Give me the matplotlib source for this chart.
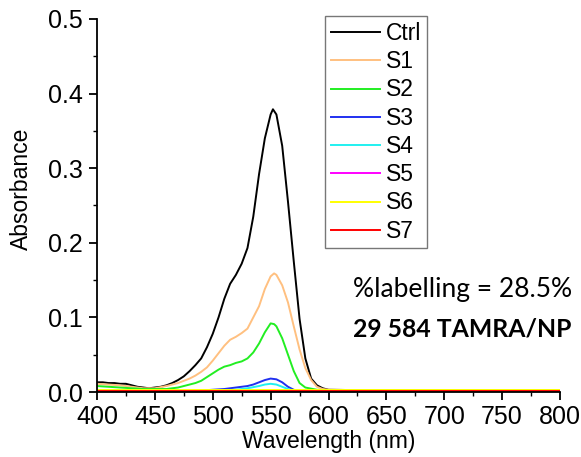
import matplotlib
matplotlib.use("Agg")
import matplotlib.pyplot as plt
from matplotlib.ticker import MultipleLocator

plt.rcParams['font.family'] = ['Liberation Sans', 'DejaVu Sans']

# ---- data ----
wl_ctrl = [400, 405, 410, 415, 420, 425, 430, 435, 440, 445, 450, 455, 460, 465, 470,
           475, 480, 485, 490, 495, 500, 505, 510, 515, 520, 525, 530, 535, 540, 545,
           550, 552, 555, 560, 565, 570, 575, 580, 585, 590, 595, 600, 650, 700, 750, 800]
ctrl = [0.013, 0.013, 0.012, 0.012, 0.011, 0.011, 0.009, 0.007, 0.006, 0.005, 0.006,
        0.007, 0.009, 0.012, 0.016, 0.021, 0.028, 0.036, 0.045, 0.060, 0.078, 0.100,
        0.125, 0.145, 0.157, 0.172, 0.193, 0.235, 0.292, 0.340, 0.372, 0.379, 0.372,
        0.330, 0.255, 0.175, 0.098, 0.045, 0.018, 0.009, 0.005, 0.003, 0.002, 0.002,
        0.002, 0.002]

wl_s1 = [400, 410, 420, 430, 440, 450, 460, 470, 480, 485, 490, 495, 500, 505, 510, 515,
         520, 525, 530, 535, 540, 545, 550, 553, 555, 560, 565, 570, 575, 580, 585, 590,
         595, 600, 650, 700, 750, 800]
s1 = [0.011, 0.010, 0.009, 0.007, 0.005, 0.005, 0.008, 0.012, 0.018, 0.022, 0.027, 0.033,
      0.042, 0.052, 0.062, 0.070, 0.074, 0.079, 0.085, 0.100, 0.115, 0.138, 0.155, 0.159,
      0.157, 0.143, 0.120, 0.088, 0.057, 0.032, 0.016, 0.007, 0.004, 0.003, 0.002, 0.002,
      0.002, 0.002]

wl_s2 = [400, 410, 420, 430, 440, 450, 460, 470, 480, 485, 490, 495, 500, 505, 510, 515,
         520, 525, 530, 535, 540, 545, 550, 553, 555, 560, 565, 570, 575, 580, 590, 600,
         650, 700, 750, 800]
s2 = [0.008, 0.007, 0.006, 0.005, 0.004, 0.004, 0.004, 0.006, 0.010, 0.012, 0.015, 0.020,
      0.025, 0.030, 0.034, 0.036, 0.039, 0.041, 0.045, 0.053, 0.065, 0.080, 0.092, 0.091,
      0.088, 0.072, 0.050, 0.028, 0.012, 0.006, 0.003, 0.002, 0.002, 0.002, 0.002, 0.002]

wl_s3 = [400, 450, 490, 500, 510, 520, 530, 535, 540, 545, 550, 555, 560, 565, 570, 575,
         600, 800]
s3 = [0.002, 0.001, 0.002, 0.003, 0.004, 0.006, 0.008, 0.010, 0.013, 0.016, 0.018, 0.017,
      0.013, 0.007, 0.003, 0.001, 0.001, 0.001]

wl_s4 = [400, 450, 500, 520, 530, 540, 545, 550, 555, 560, 565, 570, 575, 800]
s4 = [0.000, 0.000, 0.002, 0.003, 0.005, 0.008, 0.010, 0.011, 0.010, 0.007, 0.004, 0.002,
      0.001, 0.001]

wl_flat = [400, 500, 600, 700, 800]
s5 = [0.0006, 0.0006, 0.0006, 0.0006, 0.0006]
s6 = [0.0025, 0.0025, 0.0025, 0.0025, 0.0025]
s7 = [0.0018, 0.0018, 0.0018, 0.0018, 0.0018]

labels = ['Ctrl', 'S1', 'S2', 'S3', 'S4', 'S5', 'S6', 'S7']
colors = ['#000000', '#FFC080', '#22EE22', '#2030F0', '#20F0F0', '#FF00FF', '#FFFF00', '#FF0000']
series = [(wl_ctrl, ctrl), (wl_s1, s1), (wl_s2, s2), (wl_s3, s3), (wl_s4, s4),
          (wl_flat, s5), (wl_flat, s6), (wl_flat, s7)]

fig = plt.figure(figsize=(5.81, 4.57), dpi=100)
ax = fig.add_axes([97 / 581, 65 / 457, 463 / 581, 373 / 457])

for (x, y), lab, c in zip(series, labels, colors):
    ax.plot(x, y, color=c, lw=1.4, label=lab)

ax.set_xlim(400, 800)
ax.set_ylim(0, 0.5)
ax.xaxis.set_minor_locator(MultipleLocator(25))
ax.yaxis.set_minor_locator(MultipleLocator(0.05))
ax.set_xticks(range(400, 801, 50))
ax.set_yticks([0.0, 0.1, 0.2, 0.3, 0.4, 0.5])
ax.set_yticklabels(['0.0', '0.1', '0.2', '0.3', '0.4', '0.5'])
for s in ['top', 'right']:
    ax.spines[s].set_visible(False)
for s in ['left', 'bottom']:
    ax.spines[s].set_linewidth(1.3)
ax.tick_params(which='major', direction='out', length=6, width=1.3, labelsize=18)
ax.tick_params(axis='y', which='major', pad=4)
ax.tick_params(axis='x', which='major', pad=3)
ax.tick_params(which='minor', direction='out', length=3, width=1.0)

ax.set_xlabel('Wavelength (nm)', fontsize=16.5, labelpad=1)
ax.set_ylabel('Absorbance', fontsize=16.5)
ax.yaxis.set_label_coords(-0.138, 0.545)

leg = ax.legend(loc='upper left', bbox_to_anchor=(325 / 581, 1 - 16 / 457),
                bbox_transform=fig.transFigure, frameon=True, fancybox=False,
                fontsize=16.5, handlelength=2.15, labelspacing=0.23, borderpad=0.25,
                handletextpad=0.25, borderaxespad=0, handleheight=0.6)
leg.get_frame().set_edgecolor('#555555')
leg.get_frame().set_linewidth(1.0)

fig.text(353 / 581, 1 - 289 / 457, '%labelling = 28.5%', fontsize=19,
         family=['Lato', 'DejaVu Sans'], va='center', ha='left')
fig.text(353 / 581, 1 - 329 / 457, '29 584 TAMRA/NP', fontsize=17.8, fontweight='bold',
         family=['Lato', 'DejaVu Sans'], va='center', ha='left')

fig.savefig('out.png', dpi=100)
